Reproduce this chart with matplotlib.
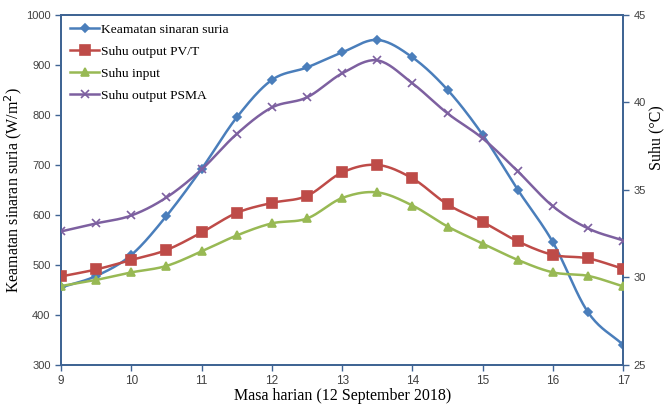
import numpy as np
import matplotlib
matplotlib.use("Agg")
import matplotlib.pyplot as plt
from matplotlib.lines import Line2D

hours = [9, 9.5, 10, 10.5, 11, 11.5, 12, 12.5, 13, 13.5, 14, 14.5, 15, 15.5, 16, 16.5, 17]
irradiance = [455, 478, 520, 598, 692, 795, 870, 895, 925, 950, 915, 850, 760, 650, 545, 405, 340]
t_pvt = [30.06, 30.46, 31.0, 31.57, 32.57, 33.69, 34.26, 34.66, 36.0, 36.43, 35.66, 34.17, 33.17, 32.06, 31.29, 31.09, 30.49]
t_input = [29.51, 29.86, 30.29, 30.66, 31.49, 32.4, 33.09, 33.37, 34.54, 34.86, 34.11, 32.91, 31.94, 31.0, 30.29, 30.09, 29.49]
t_psma = [32.63, 33.09, 33.54, 34.57, 36.17, 38.2, 39.71, 40.29, 41.66, 42.4, 41.09, 39.37, 37.94, 36.06, 34.06, 32.8, 32.11]

labels = ["Keamatan sinaran suria", "Suhu output PV/T", "Suhu input", "Suhu output PSMA"]
colors = ["#4A7EBB", "#BE4B48", "#98B954", "#7D60A0"]
markers = ["D", "s", "^", "x"]
msizes = [4.5, 7, 6, 6]

def smooth(x, y, n=20):
    # Catmull-Rom style smoothing for line rendering (like Excel smoothed lines)
    x = np.asarray(x, float); y = np.asarray(y, float)
    px = np.concatenate([[2 * x[0] - x[1]], x, [2 * x[-1] - x[-2]]])
    py = np.concatenate([[2 * y[0] - y[1]], y, [2 * y[-1] - y[-2]]])
    xs, ys = [], []
    t = np.linspace(0, 1, n, endpoint=False)
    for i in range(1, len(px) - 2):
        p0, p1, p2, p3 = py[i - 1], py[i], py[i + 1], py[i + 2]
        q0, q1, q2, q3 = px[i - 1], px[i], px[i + 1], px[i + 2]
        f = lambda a0, a1, a2, a3: 0.5 * ((2 * a1) + (-a0 + a2) * t + (2 * a0 - 5 * a1 + 4 * a2 - a3) * t ** 2 + (-a0 + 3 * a1 - 3 * a2 + a3) * t ** 3)
        xs.append(f(q0, q1, q2, q3)); ys.append(f(p0, p1, p2, p3))
    xs.append([x[-1]]); ys.append([y[-1]])
    return np.concatenate(xs), np.concatenate(ys)

serif = "Liberation Serif"
sans = "Liberation Sans"
spine_c = "#3F6494"

fig = plt.figure(figsize=(6.67, 4.09), dpi=100)
ax = fig.add_axes([0.0915, 0.1076, 0.843, 0.856])
ax2 = ax.twinx()

def draw(a, y, i):
    sx, sy = smooth(hours, y)
    a.plot(sx, sy, color=colors[i], lw=1.8, zorder=3)
    a.plot(hours, y, ls="none", marker=markers[i], ms=msizes[i], color=colors[i],
           mec=colors[i], mew=1.2, zorder=4)

draw(ax, irradiance, 0)
draw(ax2, t_pvt, 1)
draw(ax2, t_input, 2)
draw(ax2, t_psma, 3)

ax.set_xlim(9, 17)
ax.set_ylim(300, 1000)
ax2.set_ylim(25, 45)
ax.set_xticks(range(9, 18))
ax.set_yticks(range(300, 1001, 100))
ax2.set_yticks(range(25, 46, 5))

for a in (ax, ax2):
    for s in a.spines.values():
        s.set_color(spine_c)
        s.set_linewidth(1.3)
    a.tick_params(colors=spine_c, labelcolor="#404040", labelsize=8, length=4, width=1)
    for lab in a.get_xticklabels() + a.get_yticklabels():
        lab.set_family(sans)
ax.tick_params(axis="x", pad=3, labelsize=8.5)

ax.set_xlabel("Masa harian (12 September 2018)", family=serif, fontsize=11.5, labelpad=1)
ax.set_ylabel("Keamatan sinaran suria (W/m$^2$)", family=serif, fontsize=11.5)
ax.yaxis.set_label_coords(-0.066, 0.5)
ax2.set_ylabel("Suhu (°C)", family=serif, fontsize=11.5)
ax2.yaxis.set_label_coords(1.044, 0.649)

handles = [Line2D([0], [0], color=colors[i], lw=1.8, marker=markers[i], ms=msizes[i],
                  mec=colors[i], mew=1.2) for i in range(4)]
leg = ax2.legend(handles, labels, loc="upper left", frameon=False, prop={"family": serif, "size": 9.7},
                 handlelength=2.2, handletextpad=0.1, labelspacing=0.7,
                 bbox_to_anchor=(0.0, 1.0), borderaxespad=0.25)

fig.savefig("out.png", dpi=100)
